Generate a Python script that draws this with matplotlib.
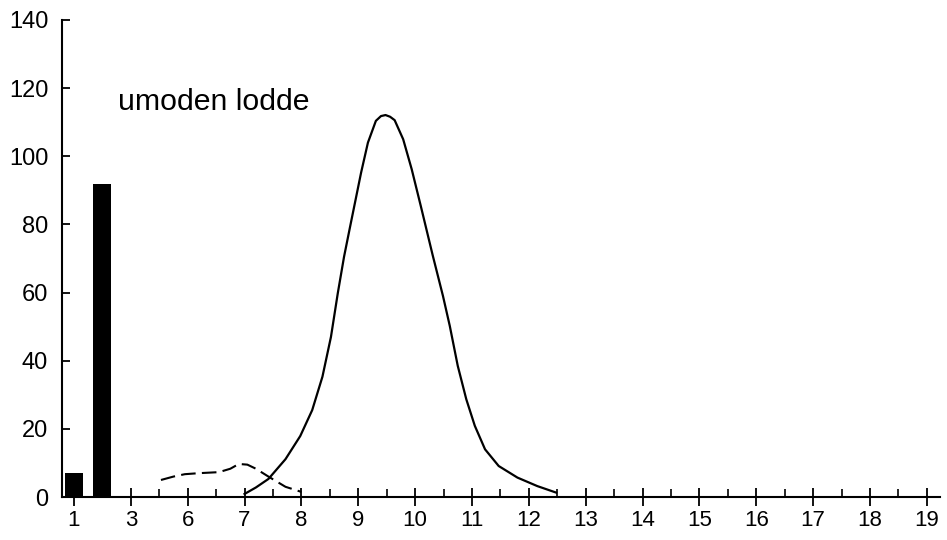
import matplotlib.pyplot as plt

plt.rcParams['font.family'] = ['Liberation Sans', 'DejaVu Sans']

# bars (x position on the axis, height)
bar_x = [4, 4.5]
bar_h = [7, 92]

# solid curve
solid_x = [7.0, 7.2, 7.42, 7.72, 7.98, 8.19, 8.37, 8.52, 8.64, 8.75, 8.85, 8.95, 9.05,
           9.17, 9.31, 9.4, 9.48, 9.56, 9.64, 9.79, 9.94, 10.1, 10.31, 10.49, 10.61,
           10.75, 10.9, 11.05, 11.23, 11.47, 11.8, 12.15, 12.48]
solid_y = [0.9, 2.8, 5.3, 11.1, 17.9, 25.5, 35.3, 47, 59.8, 70.5, 78.8, 87, 95.2,
           104, 110.4, 111.8, 112.1, 111.6, 110.6, 105, 96.2, 85.4, 70.9, 59, 50.2,
           38.5, 28.7, 20.9, 14, 9.1, 5.7, 3.2, 1.3]

# dashed curve
dash_x = [5.53, 5.75, 5.95, 6.2, 6.55, 6.75, 6.9, 7.05, 7.2, 7.42, 7.72, 8.0]
dash_y = [5, 6, 6.7, 7, 7.3, 8.3, 9.7, 9.5, 8.3, 6, 3, 1.5]

tick_pos = [4, 5, 6, 7, 8, 9, 10, 11, 12, 13, 14, 15, 16, 17, 18, 19]
tick_lab = ['1', '3', '6', '7', '8', '9', '10', '11', '12', '13', '14', '15', '16', '17', '18', '19']
minor_pos = [4.5, 5.5, 6.5, 7.5, 8.5, 9.5, 10.5, 11.5, 12.5, 13.5, 14.5, 15.5, 16.5, 17.5, 18.5]
y_ticks = [0, 20, 40, 60, 80, 100, 120, 140]

fig = plt.figure(figsize=(9.47, 5.4), dpi=100)
ax = fig.add_axes([0.0655, 0.0796, 0.927, 0.8834])

ax.bar(bar_x, bar_h, width=0.317, color='black')
ax.plot(solid_x, solid_y, color='black', lw=1.6, solid_joinstyle='round')
ax.plot(dash_x, dash_y, color='black', lw=1.5, dashes=(7, 3))

ax.text(4.78, 116, 'umoden lodde', fontsize=21.8, va='center', ha='left')

ax.set_xlim(3.79, 19.23)
ax.set_ylim(0, 140)
ax.set_xticks(tick_pos)
ax.set_xticklabels(tick_lab)
ax.set_xticks(minor_pos, minor=True)
ax.set_yticks(y_ticks)

for s in ['top', 'right']:
    ax.spines[s].set_visible(False)
for s in ['left', 'bottom']:
    ax.spines[s].set_linewidth(1.5)

ax.tick_params(axis='y', direction='in', length=6, width=1.3, pad=10, labelsize=17)
ax.tick_params(axis='x', which='major', direction='inout', length=13, width=1.3, pad=3, labelsize=16)
ax.tick_params(axis='x', which='minor', direction='in', length=6, width=1.2)

fig.savefig('out.png', dpi=100)
